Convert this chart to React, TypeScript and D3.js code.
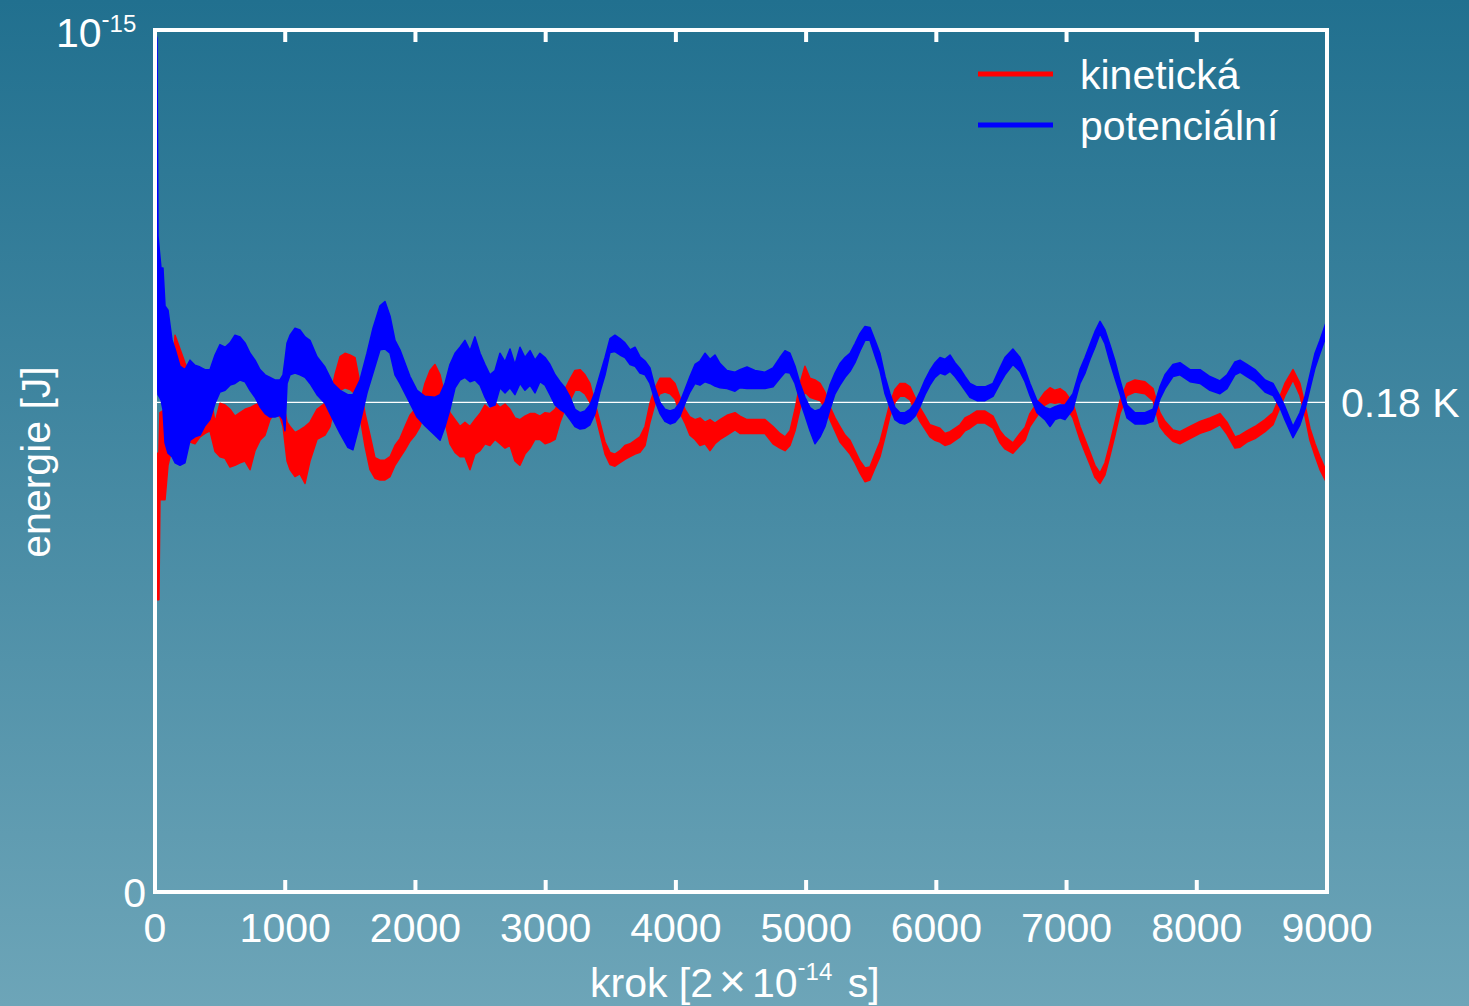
import React from "react";
import * as d3 from "d3";

// energies in units of 1e-18 J (axis top = 1e-15 J = 1000)
// each entry: [step, upper envelope, lower envelope]
const kinetic: [number, number, number][] = [
  [0, 509, 339], [30, 509, 339], [38, 556, 455], [77, 560, 455], [100, 562, 495], [131, 600, 515],
  [154, 646, 525], [192, 630, 524], [230, 614, 524], [269, 600, 522], [307, 610, 520], [346, 600, 528],
  [384, 590, 532], [422, 580, 535], [461, 545, 511], [499, 567, 505], [538, 565, 503], [576, 560, 493],
  [614, 552, 495], [653, 556, 498], [691, 560, 500], [730, 562, 490], [768, 565, 512], [806, 567, 524],
  [845, 575, 530], [883, 597, 548], [921, 590, 556], [960, 594, 551], [983, 570, 540], [1014, 545, 500],
  [1037, 540, 490], [1075, 533, 482], [1113, 536, 485], [1152, 540, 474], [1190, 545, 500], [1244, 560, 525],
  [1305, 567, 530], [1344, 575, 540], [1382, 600, 567], [1421, 621, 582], [1459, 625, 585], [1497, 623, 583],
  [1536, 620, 578], [1574, 590, 552], [1613, 555, 517], [1651, 530, 490], [1689, 504, 480], [1728, 501, 478],
  [1766, 501, 478], [1805, 505, 482], [1843, 518, 495], [1881, 526, 504], [1920, 540, 513], [1958, 553, 523],
  [1997, 560, 530], [2035, 567, 540], [2073, 590, 557], [2112, 605, 560], [2150, 612, 562], [2189, 600, 558],
  [2227, 575, 545], [2265, 556, 520], [2304, 548, 510], [2342, 540, 505], [2380, 545, 505], [2419, 540, 490],
  [2457, 548, 508], [2496, 555, 512], [2534, 565, 520], [2572, 560, 518], [2611, 568, 525], [2649, 562, 520],
  [2688, 566, 515], [2726, 560, 518], [2764, 550, 500], [2803, 548, 495], [2841, 552, 508], [2880, 555, 515],
  [2918, 555, 525], [2956, 552, 525], [2995, 556, 520], [3033, 555, 522], [3072, 560, 525], [3110, 570, 545],
  [3148, 583, 560], [3187, 595, 570], [3225, 605, 582], [3264, 606, 582], [3302, 600, 578], [3340, 590, 568],
  [3379, 567, 555], [3417, 545, 532], [3456, 522, 508], [3494, 510, 496], [3532, 508, 494], [3571, 512, 498],
  [3609, 518, 502], [3648, 520, 505], [3686, 524, 508], [3724, 528, 510], [3763, 540, 518], [3801, 567, 545],
  [3840, 585, 567], [3878, 596, 578], [3916, 596, 580], [3955, 596, 578], [3993, 590, 572], [4031, 574, 556],
  [4070, 560, 544], [4108, 551, 530], [4147, 548, 525], [4185, 550, 518], [4224, 545, 520], [4262, 548, 512],
  [4300, 544, 520], [4339, 548, 525], [4392, 553, 530], [4454, 556, 536], [4492, 552, 532], [4546, 548, 532],
  [4607, 548, 532], [4684, 548, 532], [4746, 540, 520], [4799, 532, 515], [4838, 528, 512], [4876, 535, 518],
  [4915, 560, 535], [4953, 590, 560], [4991, 610, 580], [5030, 596, 574], [5068, 594, 572], [5107, 590, 570],
  [5145, 580, 562], [5183, 563, 548], [5222, 550, 535], [5260, 540, 522], [5299, 530, 515], [5337, 524, 508],
  [5375, 512, 498], [5414, 500, 486], [5452, 492, 476], [5490, 493, 478], [5529, 508, 492], [5567, 522, 505],
  [5606, 545, 528], [5644, 567, 552], [5682, 583, 568], [5721, 590, 575], [5759, 590, 575], [5798, 586, 571],
  [5836, 574, 558], [5874, 562, 546], [5913, 552, 537], [5951, 542, 528], [5990, 540, 524], [6028, 538, 522],
  [6066, 532, 518], [6105, 534, 520], [6143, 538, 524], [6182, 542, 528], [6220, 550, 535], [6258, 553, 538],
  [6312, 558, 544], [6374, 558, 544], [6435, 552, 538], [6489, 535, 521], [6527, 528, 514], [6588, 521, 509],
  [6642, 532, 518], [6681, 539, 524], [6719, 555, 540], [6773, 567, 552], [6834, 580, 565], [6873, 585, 568],
  [6911, 582, 567], [6950, 584, 568], [6988, 580, 565], [7049, 567, 550], [7103, 540, 525], [7142, 525, 510],
  [7180, 510, 496], [7218, 495, 481], [7257, 486, 474], [7295, 498, 484], [7333, 520, 506], [7372, 545, 530],
  [7410, 570, 555], [7464, 590, 576], [7525, 594, 580], [7602, 592, 578], [7664, 584, 570], [7717, 556, 540],
  [7756, 546, 532], [7817, 536, 523], [7871, 534, 520], [7948, 540, 526], [8025, 546, 532], [8101, 550, 536],
  [8178, 555, 542], [8232, 545, 531], [8293, 528, 515], [8332, 530, 516], [8385, 535, 522], [8447, 540, 526],
  [8524, 548, 534], [8585, 556, 542], [8639, 575, 562], [8677, 590, 576], [8739, 606, 594], [8792, 590, 576],
  [8831, 565, 552], [8869, 538, 524], [8908, 520, 506], [8946, 505, 490], [9000, 486, 474],
];

const potential: [number, number, number][] = [
  [0, 1000, 606], [15, 990, 600], [23, 761, 577], [46, 724, 571], [61, 724, 560], [77, 680, 521],
  [100, 675, 509], [131, 640, 505], [154, 630, 498], [192, 610, 495], [230, 606, 498], [269, 617, 524],
  [307, 611, 528], [346, 609, 530], [384, 606, 541], [422, 606, 548], [461, 623, 567], [499, 635, 580],
  [538, 632, 582], [576, 637, 588], [614, 646, 590], [653, 644, 594], [691, 637, 592], [730, 625, 582],
  [768, 617, 574], [806, 606, 563], [845, 600, 555], [883, 597, 551], [921, 594, 551], [960, 594, 553],
  [983, 600, 548], [998, 617, 535], [1014, 637, 590], [1037, 646, 600], [1075, 654, 602], [1113, 652, 600],
  [1152, 644, 597], [1190, 640, 590], [1244, 621, 577], [1305, 609, 567], [1367, 590, 548], [1421, 582, 532],
  [1480, 577, 516], [1520, 577, 513], [1574, 594, 544], [1628, 625, 579], [1674, 654, 602], [1728, 680, 629],
  [1766, 685, 630], [1805, 668, 625], [1843, 640, 600], [1881, 629, 590], [1958, 598, 567], [2012, 582, 551],
  [2073, 575, 541], [2150, 574, 530], [2189, 577, 524], [2227, 590, 540], [2265, 612, 560], [2304, 625, 585],
  [2342, 632, 594], [2380, 640, 597], [2419, 628, 592], [2457, 644, 594], [2496, 625, 588], [2534, 612, 574],
  [2572, 600, 563], [2611, 605, 565], [2649, 625, 585], [2688, 615, 579], [2726, 630, 585], [2764, 612, 577],
  [2803, 632, 590], [2841, 620, 582], [2880, 628, 588], [2918, 617, 579], [2956, 625, 592], [2995, 620, 588],
  [3033, 612, 577], [3072, 600, 565], [3110, 592, 560], [3148, 585, 556], [3187, 574, 548], [3225, 560, 540],
  [3264, 556, 537], [3302, 558, 538], [3340, 565, 542], [3379, 580, 555], [3417, 600, 580], [3456, 620, 600],
  [3494, 642, 626], [3532, 646, 627], [3571, 642, 623], [3609, 637, 620], [3648, 629, 612], [3686, 632, 610],
  [3724, 621, 602], [3763, 616, 600], [3801, 608, 590], [3840, 585, 570], [3878, 568, 555], [3916, 560, 546],
  [3955, 558, 543], [3993, 560, 545], [4031, 568, 552], [4070, 583, 567], [4108, 598, 580], [4147, 612, 590],
  [4185, 616, 588], [4224, 625, 592], [4262, 618, 590], [4300, 623, 587], [4339, 613, 585], [4392, 605, 584],
  [4454, 603, 581], [4492, 606, 585], [4546, 609, 584], [4607, 605, 584], [4684, 603, 584], [4746, 608, 586],
  [4799, 620, 596], [4838, 628, 603], [4876, 625, 602], [4915, 610, 590], [4953, 590, 570], [4991, 574, 553],
  [5030, 562, 535], [5068, 558, 520], [5107, 560, 528], [5145, 568, 540], [5183, 588, 560], [5222, 602, 578],
  [5260, 613, 588], [5299, 620, 597], [5337, 625, 604], [5375, 636, 614], [5414, 648, 628], [5452, 656, 640],
  [5490, 655, 640], [5529, 640, 622], [5567, 625, 605], [5606, 598, 578], [5644, 578, 562], [5682, 562, 548],
  [5721, 556, 544], [5759, 556, 543], [5798, 560, 546], [5836, 568, 552], [5874, 580, 563], [5913, 594, 577],
  [5951, 605, 588], [5990, 614, 597], [6028, 620, 602], [6066, 618, 600], [6105, 623, 604], [6143, 614, 598],
  [6182, 607, 590], [6220, 598, 582], [6258, 590, 574], [6312, 586, 570], [6374, 586, 570], [6435, 590, 575],
  [6489, 608, 590], [6527, 620, 600], [6588, 630, 612], [6642, 620, 604], [6681, 606, 592], [6719, 590, 576],
  [6773, 570, 556], [6834, 562, 548], [6873, 560, 540], [6911, 563, 548], [6950, 565, 550], [6988, 565, 548],
  [7049, 578, 560], [7103, 606, 590], [7142, 620, 602], [7180, 635, 618], [7218, 650, 632], [7257, 662, 648],
  [7295, 652, 636], [7333, 635, 615], [7372, 616, 596], [7410, 594, 578], [7464, 565, 550], [7525, 556, 543],
  [7602, 556, 543], [7664, 560, 546], [7717, 586, 572], [7756, 600, 584], [7817, 612, 598], [7871, 614, 600],
  [7948, 606, 592], [8025, 606, 590], [8101, 598, 582], [8178, 593, 578], [8232, 600, 584], [8293, 615, 600],
  [8332, 617, 603], [8385, 612, 598], [8447, 606, 592], [8524, 594, 580], [8585, 590, 576], [8639, 575, 562],
  [8677, 563, 548], [8739, 540, 527], [8792, 556, 542], [8831, 575, 560], [8869, 600, 584], [8908, 625, 608],
  [8946, 640, 625], [9000, 664, 648],
];

const xTicks = [0, 1000, 2000, 3000, 4000, 5000, 6000, 7000, 8000, 9000];
const refLevel = 568; // 0.18 K
const legendLabels = ["kinetická", "potenciální"];
const seriesColors = ["#ff0000", "#0000ff"];

const W = 1469;
const H = 1006;
const FONT = "'Liberation Sans', Arial, sans-serif";

export default function App() {
  const x = d3.scaleLinear().domain([0, 9000]).range([155, 1327]);
  const y = d3.scaleLinear().domain([0, 1000]).range([892, 30]);
  const area = d3
    .area<[number, number, number]>()
    .x((d) => x(d[0]))
    .y0((d) => y(d[2]))
    .y1((d) => y(d[1]));

  const series = [kinetic, potential];

  return (
    <svg
      width={W}
      height={H}
      style={{ position: "absolute", left: 0, top: 0 }}
      fontFamily={FONT}
    >
      <defs>
        <linearGradient id="bg" x1="0" y1="0" x2="0" y2="1">
          <stop offset="0%" stopColor="#21708f" />
          <stop offset="100%" stopColor="#6da5b8" />
        </linearGradient>
      </defs>
      <rect x={0} y={0} width={W} height={H} fill="url(#bg)" />

      {/* reference line */}
      <line
        x1={x(0)}
        x2={x(9000)}
        y1={y(refLevel)}
        y2={y(refLevel)}
        stroke="#ffffff"
        strokeWidth={1.3}
      />

      {/* series bands */}
      {series.map((s, i) => (
        <path
          key={i}
          d={area(s) || ""}
          fill={seriesColors[i]}
          stroke={seriesColors[i]}
          strokeWidth={1.5}
          strokeLinejoin="round"
        />
      ))}

      {/* frame */}
      <rect
        x={x(0)}
        y={y(1000)}
        width={x(9000) - x(0)}
        height={y(0) - y(1000)}
        fill="none"
        stroke="#ffffff"
        strokeWidth={4}
      />
      {xTicks.map((t) => (
        <g key={t}>
          <line x1={x(t)} x2={x(t)} y1={y(0)} y2={y(0) - 12} stroke="#fff" strokeWidth={4} />
          <line x1={x(t)} x2={x(t)} y1={y(1000)} y2={y(1000) + 12} stroke="#fff" strokeWidth={4} />
          <text x={x(t)} y={942} textAnchor="middle" fontSize={41} fill="#fff">
            {t}
          </text>
        </g>
      ))}

      {/* y tick labels */}
      <text x={146} y={907} textAnchor="end" fontSize={41} fill="#fff">
        0
      </text>
      <text x={56} y={47} fontSize={41} fill="#fff">
        10
        <tspan fontSize={24} dy={-20}>
          -
        </tspan>
        <tspan fontSize={24} dy={5}>
          15
        </tspan>
      </text>

      {/* ref label */}
      <text x={1341} y={417} fontSize={41} fill="#fff">
        0.18 K
      </text>

      {/* axis titles */}
      <text
        transform={`translate(50,462) rotate(-90)`}
        textAnchor="middle"
        fontSize={41}
        fill="#fff"
      >
        energie [J]
      </text>
      <text x={590} y={997} fontSize={41} fill="#fff">
        krok [2
        <tspan dx={6} fontSize={46}>×</tspan>
        <tspan dx={6}>10</tspan>
        <tspan fontSize={24} dy={-22}>
          -
        </tspan>
        <tspan fontSize={24} dy={5}>
          14
        </tspan>
        <tspan dy={17} dx={4}> s]</tspan>
      </text>

      {/* legend */}
      {legendLabels.map((l, i) => (
        <g key={l}>
          <line
            x1={978}
            x2={1053}
            y1={74 + i * 51}
            y2={74 + i * 51}
            stroke={seriesColors[i]}
            strokeWidth={5}
          />
          <text x={1080} y={89 + i * 51} fontSize={41} fill="#fff">
            {l}
          </text>
        </g>
      ))}
    </svg>
  );
}
